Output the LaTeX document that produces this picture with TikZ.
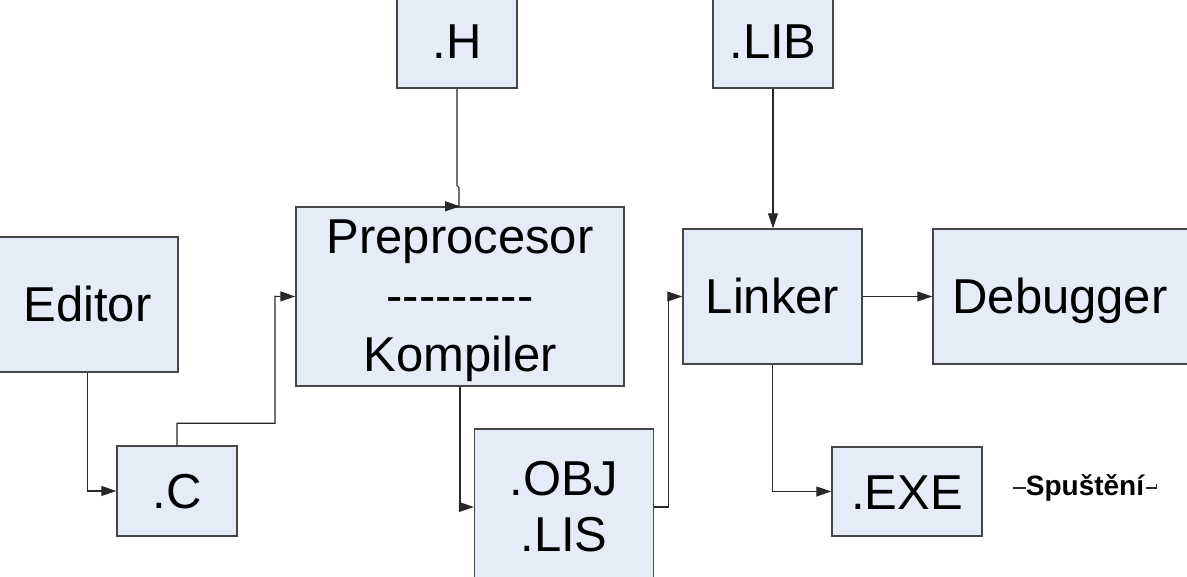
\documentclass[tikz,border=0pt]{standalone}
\usepackage{fontspec}
\setmainfont{Liberation Sans}
\usetikzlibrary{arrows.meta}
\definecolor{boxfill}{RGB}{230,236,247}
\definecolor{boxline}{RGB}{70,70,70}
\definecolor{conn}{RGB}{40,40,40}
\begin{document}
\begin{tikzpicture}[x=1pt,y=-1pt,
  box/.style={draw=boxline,line width=1.4pt,fill=boxfill,inner sep=0pt,
    font=\fontsize{49}{56}\selectfont,align=center},
  one/.style={text height=35pt,text depth=0pt},
  conn/.style={draw=conn,line width=1.1pt,-{Triangle[length=15pt,width=10pt]}}]
\useasboundingbox (0,0) rectangle (1187,577);
\clip (0,0) rectangle (1187,577);
% boxes
\node[box,one,minimum width=181pt,minimum height=135pt] (editor) at (87.5,304.5) {Editor};
\node[box,one,minimum width=120pt,minimum height=90pt] (c) at (177,491) {.C};
\node[box,minimum width=328pt,minimum height=179pt] (prepro) at (460,296.5) {\rule{0pt}{42pt}Preprocesor\\[3pt]-{}-{}-{}-{}-{}-{}-{}-{}-\\[3pt]Kompiler};
\node[box,one,minimum width=120pt,minimum height=94pt] (h) at (457,41) {.H};
\node[box,one,minimum width=120pt,minimum height=94pt] (lib) at (773,41) {.LIB};
\node[box,one,minimum width=179pt,minimum height=135pt] (linker) at (772.5,296.5) {Linker};
\node[box,one,minimum width=258pt,minimum height=135pt] (debug) at (1062,296.5) {\hspace*{-4pt}Debugger};
\node[box,one,minimum width=150pt,minimum height=89pt] (exe) at (907,491.5) {.EXE};
\node[box,minimum width=179pt,minimum height=156pt] (obj) at (564,507) {.OBJ\\.LIS};
\node[font=\bfseries\fontsize{28}{32}\selectfont,inner sep=0pt,anchor=base] (spust) at (1085,495) {Spuštění};
% stubs beside Spuštění
\draw[conn,-] ([yshift=7pt]spust.base west) -- ++(-13,0);
\draw[conn,-] ([xshift=2pt,yshift=7pt]spust.base east) -- ++(10,0) -- ++(0,-4);
% connectors
\draw[conn] (editor.south) |- (c.west);
\draw[conn] (c.north) -- ++(0,-22) -| ++(98,-127) -- (prepro.west);
\draw[conn] (h.south) -- ++(0,97) -- ++(2,2) |- (prepro.north);
\draw[conn] (prepro.south) |- (obj.west);
\draw[conn] (obj.east) -- ++(14,0) |- (linker.west);
\draw[conn] (lib.south) -- (lib.south |- linker.north);
\draw[conn] (linker.east) -- (debug.west);
\draw[conn] (linker.south) |- (exe.west);
\end{tikzpicture}
\end{document}
